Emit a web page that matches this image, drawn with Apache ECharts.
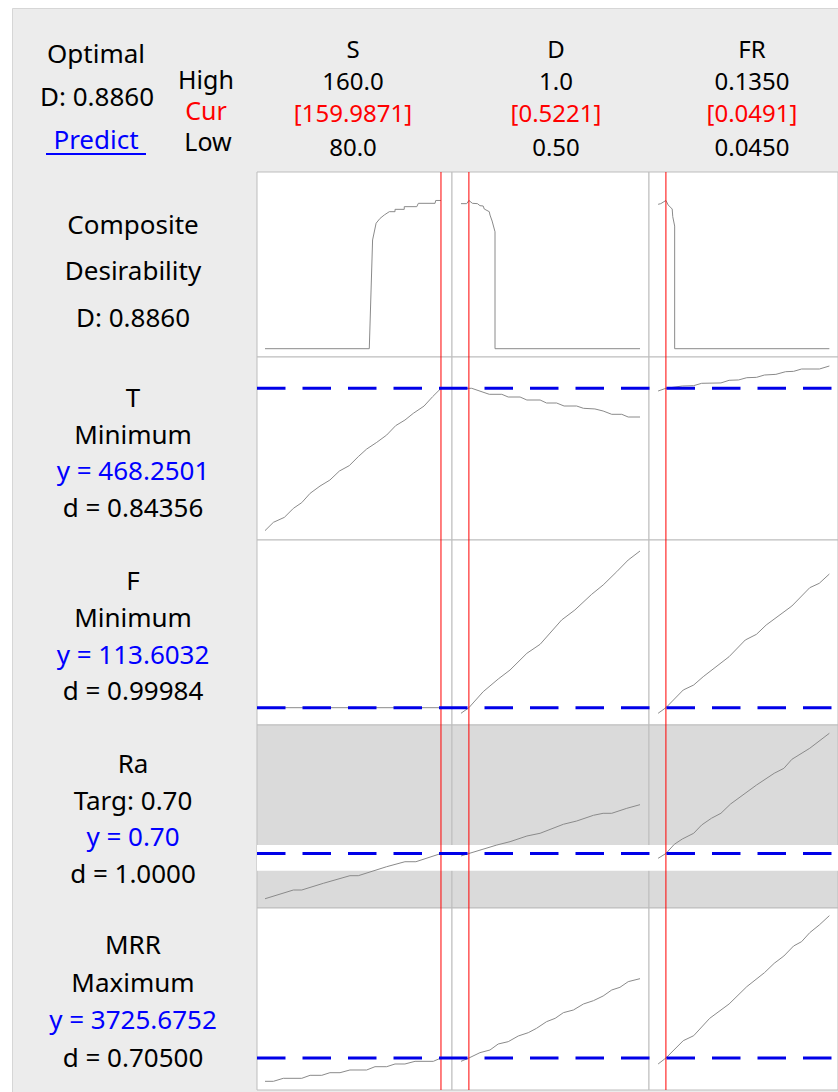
<!DOCTYPE html>
<html>
<head>
<meta charset="utf-8">
<script src="https://cdn.jsdelivr.net/npm/echarts@6.0.0/dist/echarts.min.js"></script>
<style>
  html, body { margin: 0; padding: 0; background: #ffffff; }
  #chart { width: 838px; height: 1092px; }
</style>
</head>
<body>
<div id="chart"></div>
<script>
// ---- Factors ----
const factorNames = ['S', 'D', 'FR'];
const factorHigh = [160.0, 1.0, 0.1350];
const factorLow = [80.0, 0.50, 0.0450];
const factorCur = [159.9871, 0.5221, 0.0491];
const highLabels = ['160.0', '1.0', '0.1350'];
const curLabels = ['[159.9871]', '[0.5221]', '[0.0491]'];
const lowLabels = ['80.0', '0.50', '0.0450'];

// ---- Responses ----
const compositeD = 0.8860;
const responseNames = ['T', 'F', 'Ra', 'MRR'];
const responseGoals = ['Minimum', 'Minimum', 'Targ: 0.70', 'Maximum'];
const responsePredicted = [468.2501, 113.6032, 0.70, 3725.6752];
const predictedLabels = ['y = 468.2501', 'y = 113.6032', 'y = 0.70', 'y = 3725.6752'];
const desirabilityLabels = ['d = 0.84356', 'd = 0.99984', 'd = 1.0000', 'd = 0.70500'];
const raLower = 0.5;
const raUpper = 0.8;

// ---- Response traces: [factor value, response value] ----
const compVsS = [[80, 0], [127.4, 0], [128.9, 0.650], [130.5, 0.750], [132.3, 0.779], [134.2, 0.799], [136.5, 0.819], [139.1, 0.819], [139.1, 0.833], [143.3, 0.833], [143.3, 0.849], [149.0, 0.849], [149.7, 0.869], [157.3, 0.869], [157.6, 0.886], [160, 0.886]];
const compVsD = [[0.5, 0.867], [0.516, 0.867], [0.5221, 0.886], [0.532, 0.869], [0.546, 0.867], [0.553, 0.855], [0.562, 0.853], [0.565, 0.835], [0.579, 0.819], [0.581, 0.799], [0.587, 0.763], [0.595, 0.699], [0.595, 0], [1.0, 0]];
const compVsFR = [[0.045, 0.863], [0.0464, 0.867], [0.0491, 0.886], [0.0503, 0.859], [0.0524, 0.835], [0.0527, 0.789], [0.0537, 0.733], [0.0537, 0], [0.135, 0]];

const tVsS = [[80, 325.9], [83.8, 334.2], [88.8, 339.2], [92.9, 348.2], [96.7, 353.9], [100.5, 363.2], [105, 370.5], [109.5, 376.5], [113.8, 385.5], [118.3, 390.9], [122.4, 399.9], [126.2, 407.5], [130.8, 414.2], [135.3, 421.5], [139.4, 430.9], [143.6, 436.5], [147.4, 443.2], [152.3, 450.5], [156.2, 459.9], [160, 468.25]];
const tVsD = [[0.5, 468.25], [0.530, 468.25], [0.579, 462.25], [0.614, 462.25], [0.632, 459.55], [0.665, 459.55], [0.684, 456.55], [0.721, 456.55], [0.739, 453.55], [0.767, 453.55], [0.788, 450.55], [0.823, 450.55], [0.842, 448.25], [0.874, 447.6], [0.897, 445.55], [0.921, 442.25], [0.949, 442.25], [0.967, 439.55], [1.0, 439.55]];
const tVsFR = [[0.045, 465.55], [0.0491, 468.25], [0.0577, 470.55], [0.0637, 470.9], [0.0679, 473.25], [0.0780, 473.6], [0.0823, 476.25], [0.0873, 476.6], [0.0916, 478.85], [0.0967, 479.2], [0.1009, 481.55], [0.1069, 482.2], [0.1120, 484.85], [0.1162, 485.2], [0.1204, 487.55], [0.1298, 487.55], [0.135, 490.55]];

const fVsS = [[80, 113.6032], [160, 113.6032]];
const fVsD = [[0.5, 108.0], [0.5221, 113.6], [0.562, 129.6], [0.604, 142.3], [0.637, 151.3], [0.684, 168.0], [0.721, 177.0], [0.781, 201.3], [0.818, 211.3], [0.865, 227.0], [0.897, 236.3], [0.935, 249.6], [0.967, 261.3], [1.0, 270.3]];
const fVsFR = [[0.045, 108.0], [0.0491, 113.6], [0.0582, 131.3], [0.0637, 136.3], [0.0687, 144.6], [0.0823, 164.6], [0.0908, 181.3], [0.0967, 187.0], [0.1018, 196.3], [0.1153, 215.3], [0.1247, 233.6], [0.1297, 238.0], [0.135, 247.3]];

const raVsS = [[80, 0.172], [92.9, 0.274], [96.7, 0.274], [106.5, 0.352], [118.6, 0.441], [122.4, 0.441], [135.3, 0.546], [143.6, 0.604], [148.6, 0.604], [160, 0.70]];
const raVsD = [[0.5, 0.671], [0.5221, 0.70], [0.600, 0.799], [0.637, 0.838], [0.684, 0.904], [0.721, 0.936], [0.786, 1.041], [0.823, 1.079], [0.870, 1.146], [0.897, 1.169], [0.921, 1.169], [0.963, 1.227], [1.0, 1.270]];
const raVsFR = [[0.045, 0.644], [0.0491, 0.70], [0.0535, 0.807], [0.0577, 0.869], [0.0637, 0.936], [0.0679, 1.033], [0.0730, 1.111], [0.0780, 1.169], [0.0831, 1.278], [0.0967, 1.499], [0.1060, 1.636], [0.1111, 1.694], [0.1153, 1.799], [0.1247, 1.928], [0.135, 2.103]];

const mrrVsS = [[80, 2793], [83.8, 2793], [88.3, 2913], [96.7, 2913], [100.5, 3033], [105.8, 3033], [109.5, 3138], [114.1, 3138], [118.6, 3246], [126.2, 3246], [130.0, 3378], [135.3, 3378], [139.1, 3486], [143.6, 3486], [148.2, 3592], [156.5, 3592], [160, 3725.7]];
const mrrVsD = [[0.5, 3592], [0.5221, 3725.7], [0.553, 3939], [0.581, 4046], [0.604, 4286], [0.632, 4379], [0.660, 4606], [0.688, 4739], [0.711, 4913], [0.739, 5179], [0.763, 5312], [0.786, 5539], [0.814, 5646], [0.842, 5886], [0.870, 6019], [0.897, 6206], [0.921, 6446], [0.944, 6553], [0.967, 6779], [1.0, 6899]];
const mrrVsFR = [[0.045, 3486], [0.0491, 3725.7], [0.0582, 4418], [0.0637, 4618], [0.0721, 5312], [0.0823, 5886], [0.0916, 6579], [0.1009, 7139], [0.1060, 7512], [0.1111, 7806], [0.1162, 8206], [0.1204, 8379], [0.1247, 8739], [0.1297, 9046], [0.135, 9419]];

const traces = [
  [compVsS, compVsD, compVsFR],
  [tVsS, tVsD, tVsFR],
  [fVsS, fVsD, fVsFR],
  [raVsS, raVsD, raVsFR],
  [mrrVsS, mrrVsD, mrrVsFR]
];

// ---- Layout ----
const colLeft = [257, 452, 649];
const colWidth = [195, 197, 197];
const rowTop = [172, 357, 540, 725, 908];
const rowHeight = [185, 183, 185, 183, 182];
const colRange = [[76.36, 165.0], [0.4749, 1.0251], [0.04021, 0.13954]];
const rowRange = [[-0.0496, 1.0562], [316.55, 499.55], [96.3, 281.3], [0.064, 2.1996], [2445.7, 9725.7]];

const FONT = '"Noto Sans", "Open Sans", sans-serif';
const FS = 26;      // side labels
const FS_HEAD = 24; // stacked header rows
const BLACK = '#000000', RED = '#ff0000', BLUE = '#0000ff';

const grids = [], xAxes = [], yAxes = [], series = [];
function addAxes(xr, yr) {
  const i = xAxes.length;
  xAxes.push({ type: 'value', gridIndex: i, min: xr[0], max: xr[1], show: false });
  yAxes.push({ type: 'value', gridIndex: i, min: yr[0], max: yr[1], show: false });
  return i;
}

// Cells with the response traces
for (let r = 0; r < 5; r++) {
  for (let c = 0; c < 3; c++) {
    grids.push({
      left: colLeft[c], top: rowTop[r], width: colWidth[c], height: rowHeight[r],
      show: true, backgroundColor: r === 3 ? '#dadada' : '#ffffff',
      borderColor: '#bdbdbd', borderWidth: 1
    });
    const i = addAxes(colRange[c], rowRange[r]);
    const s = {
      type: 'line', xAxisIndex: i, yAxisIndex: i, data: traces[r][c],
      showSymbol: false, silent: true, z: 2,
      lineStyle: { color: '#8a8a8a', width: 1 }
    };
    if (r === 3) {
      s.markArea = {
        silent: true, z: 1,
        itemStyle: { color: '#ffffff', opacity: 1 },
        data: [[{ yAxis: raLower }, { yAxis: raUpper }]]
      };
    }
    series.push(s);
  }
}

// Current factor settings: red verticals through all rows
for (let c = 0; c < 3; c++) {
  grids.push({ left: colLeft[c], top: rowTop[0], width: colWidth[c], height: rowTop[4] + rowHeight[4] - rowTop[0] });
  const i = addAxes(colRange[c], [0, 1]);
  series.push({
    type: 'line', xAxisIndex: i, yAxisIndex: i, showSymbol: false, silent: true, z: 5,
    data: [[factorCur[c], 0], [factorCur[c], 1]],
    lineStyle: { color: RED, width: 1 }
  });
}

// Predicted response levels: blue dashed lines across each row
for (let r = 1; r < 5; r++) {
  const total = colLeft[2] + colWidth[2] - colLeft[0];
  grids.push({ left: colLeft[0], top: rowTop[r], width: total, height: rowHeight[r] });
  const i = addAxes([0, 1], rowRange[r]);
  const v = responsePredicted[r - 1];
  series.push({
    type: 'line', xAxisIndex: i, yAxisIndex: i, showSymbol: false, silent: true, z: 6,
    data: [[0, v], [1, v]],
    lineStyle: { color: '#0000e8', width: 3, type: [28.5, 17] }
  });
}

// ---- Text ----
function txt(text, x, y, color, size) {
  const fs = size || FS;
  return {
    type: 'text', x: x, y: y, silent: true, z: 10,
    style: {
      text: text, fill: color || BLACK, font: fs + 'px ' + FONT, lineHeight: fs,
      textAlign: 'center', textVerticalAlign: 'middle'
    }
  };
}
const graphics = [
  { type: 'rect', shape: { x: 12.5, y: 8.5, width: 900, height: 1200 }, style: { fill: '#ececec', stroke: '#d6d6d6', lineWidth: 1 }, z: -10, silent: true },
  txt('Optimal', 96, 53),
  txt('D: ' + compositeD.toFixed(4), 97, 96),
  txt('Predict', 96, 139, BLUE),
  { type: 'line', shape: { x1: 46, y1: 154, x2: 146, y2: 154 }, style: { stroke: BLUE, lineWidth: 2 }, z: 10, silent: true },
  txt('High', 206, 79, BLACK, FS_HEAD + 1),
  txt('Cur', 206, 110, RED, FS_HEAD + 1),
  txt('Low', 208, 141, BLACK, FS_HEAD + 1)
];
const colCenter = [353, 556, 752];
for (let c = 0; c < 3; c++) {
  graphics.push(txt(factorNames[c], colCenter[c], 48, BLACK, FS_HEAD));
  graphics.push(txt(highLabels[c], colCenter[c], 80, BLACK, FS_HEAD));
  graphics.push(txt(curLabels[c], colCenter[c], 112, RED, FS_HEAD));
  graphics.push(txt(lowLabels[c], colCenter[c], 146, BLACK, FS_HEAD));
}
const LX = 133;
graphics.push(txt('Composite', LX, 224));
graphics.push(txt('Desirability', LX, 270));
graphics.push(txt('D: ' + compositeD.toFixed(4), LX, 317));
const rowLabelY = [[397, 434, 470, 507], [580, 617, 654, 690], [763, 800, 836, 873], [944, 982, 1019, 1057]];
for (let r = 0; r < 4; r++) {
  const ys = rowLabelY[r];
  graphics.push(txt(responseNames[r], LX, ys[0]));
  graphics.push(txt(responseGoals[r], LX, ys[1]));
  graphics.push(txt(predictedLabels[r], LX, ys[2], BLUE));
  graphics.push(txt(desirabilityLabels[r], LX, ys[3]));
}

const chart = echarts.init(document.getElementById('chart'), null, { renderer: 'svg' });
chart.setOption({
  animation: false,
  backgroundColor: '#ffffff',
  grid: grids,
  xAxis: xAxes,
  yAxis: yAxes,
  series: series,
  graphic: graphics
});
</script>
</body>
</html>
